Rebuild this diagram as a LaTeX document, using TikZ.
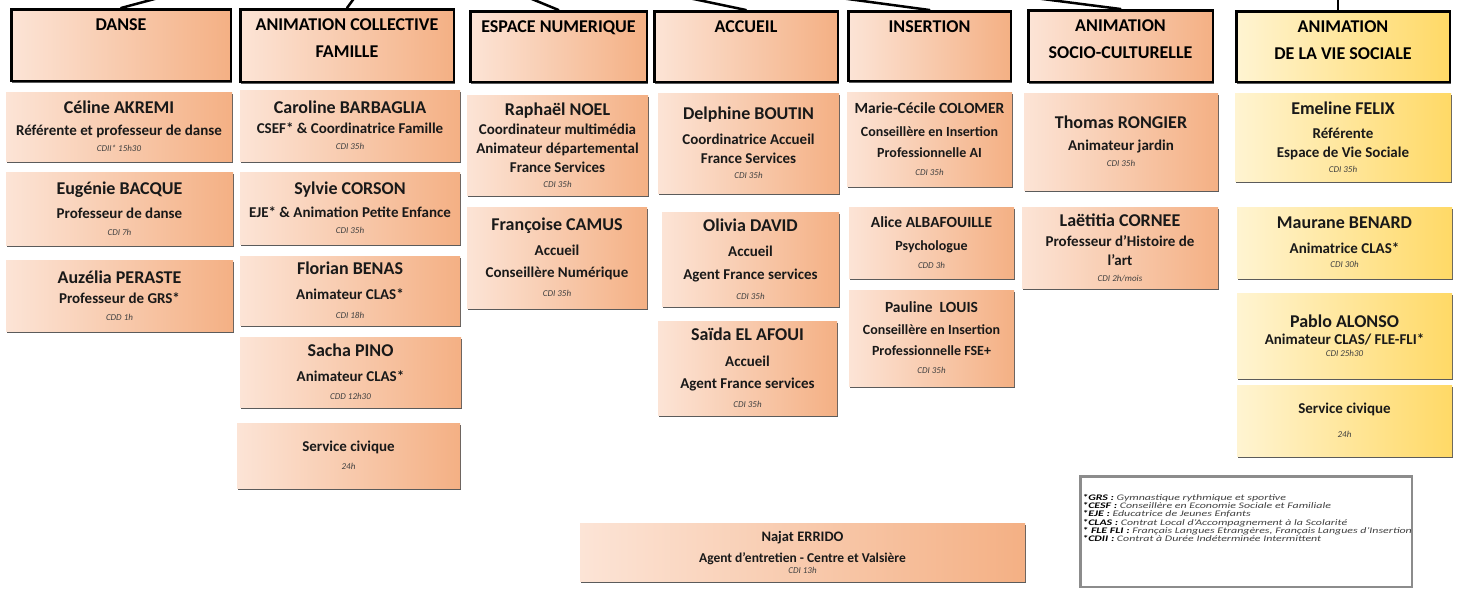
\documentclass[tikz,border=0pt]{standalone}
\usepackage{fontspec}
\setmainfont{Carlito}
\usepackage{graphicx}
\usetikzlibrary{shadows}

\definecolor{peachL}{HTML}{FCE4D6}
\definecolor{peachR}{HTML}{F4B084}
\definecolor{yellowL}{HTML}{FFF4D2}
\definecolor{yellowR}{HTML}{FFD966}
\definecolor{inkgray}{HTML}{404040}
\definecolor{framegray}{HTML}{8C8C8C}

\tikzset{every picture/.style={line width=0.75pt}}

\begin{document}
\begin{tikzpicture}[x=1pt, y=-1pt,
    link/.style={black, line width=2.5pt, line cap=round},
    boxshadow/.style={drop shadow={shadow xshift=1pt, shadow yshift=-2pt, fill=black!80, opacity=0.8}},
    head/.style={draw=black, line width=2.5pt, left color=peachL, right color=peachR, boxshadow, inner sep=0pt},
    headtext/.style={anchor=north, yshift=-10pt, align=center, inner sep=0pt,
                     font=\fontsize{18}{27}\selectfont\bfseries},
    person/.style={left color=peachL, right color=peachR, boxshadow, align=center, inner sep=1pt,
                   text=black!90, font=\fontsize{15}{19}\selectfont\bfseries},
    evs/.style={left color=yellowL, right color=yellowR},
    wh/.style 2 args={minimum width=#1, minimum height=#2}]

  \def\pname#1{{\fontsize{18}{22}\selectfont #1}}
  \def\pcdi#1{{\fontsize{9}{11}\selectfont\mdseries\itshape\color{inkgray}#1}}
  \def\legline#1#2{\scalebox{1.4}[1]{{\bfseries\color{black}#1 :} #2}}

  \useasboundingbox[fill=white] (0,0) rectangle (1457,592);

  % headers
  \node[head, wh={219.5}{71.5}, label={[headtext]north:DANSE}] (hDanse) at (121,45) {};
  \node[head, wh={213.5}{72.5}, label={[headtext]north:ANIMATION COLLECTIVE\\FAMILLE}] (hFamille) at (347,45.5) {};
  \node[head, wh={176.5}{70.5}, label={[headtext]north:ESPACE NUMERIQUE}] (hNumerique) at (558.5,46.5) {};
  \node[head, wh={183.5}{70.5}, label={[headtext]north:ACCUEIL}] (hAccueil) at (746,46.5) {};
  \node[head, wh={162.5}{69.5}, label={[headtext]north:INSERTION}] (hInsertion) at (929.5,46) {};
  \node[head, wh={184.5}{71.5}, label={[headtext]north:ANIMATION\\SOCIO-CULTURELLE}] (hSocio) at (1120.5,46) {};
  \node[head, evs, wh={213.5}{70.5}, label={[headtext]north:ANIMATION\\DE LA VIE SOCIALE}] (hVieSociale) at (1343,46.5) {};

  % links from above
  \coordinate (tDanse) at (162,-3);
  \coordinate (tFamille) at (355,-3);
  \coordinate (tNumerique) at (527,-3);
  \coordinate (tAccueil) at (684,-3);
  \coordinate (tInsertion) at (833,-3);
  \coordinate (tSocio) at (1027,-3);
  \coordinate (tVieSociale) at (1338,-3);
  \draw[link] (tDanse) -- (hDanse.north);
  \draw[link] (tFamille) -- (hFamille.north);
  \draw[link] (tNumerique) -- (hNumerique.north);
  \draw[link] (tAccueil) -- (hAccueil.north);
  \draw[link] (tInsertion) -- (hInsertion.north);
  \draw[link] (tSocio) -- (hSocio.north);
  \draw[link] (tVieSociale) -- (tVieSociale |- hVieSociale.north);

  % danse
  \node[person, wh={226}{69}] (pAkremi) at (119,126.5)
    {\pname{Céline AKREMI}\\[3pt]Référente et professeur de danse\\[-3pt]\pcdi{CDII* 15h30}};
  \node[person, wh={227}{73}] (pBacque) at (119.5,208.5)
    {\pname{Eugénie BACQUE}\\[5pt]Professeur de danse\\[-2pt]\pcdi{CDI 7h}};
  \node[person, wh={227}{71}] (pPeraste) at (119.5,295.5)
    {\pname{Auzélia PERASTE}\\[1pt]Professeur de GRS*\\[-2pt]\pcdi{CDD 1h}};

  % animation collective famille
  \node[person, wh={220}{71}] (pBarbaglia) at (350,125.5)
    {\pname{Caroline BARBAGLIA}\\[1pt]CSEF* \& Coordinatrice Famille\\[-3pt]\pcdi{CDI 35h}};
  \node[person, wh={220}{72}] (pCorson) at (350,208)
    {\pname{Sylvie CORSON}\\[4pt]EJE* \& Animation Petite Enfance\\[-3pt]\pcdi{CDI 35h}};
  \node[person, wh={220}{69}] (pBenas) at (350,290.5)
    {\pname{Florian BENAS}\\[6pt]Animateur CLAS*\\[0pt]\pcdi{CDI 18h}};
  \node[person, wh={221}{70}] (pPino) at (350.5,372)
    {\pname{Sacha PINO}\\[6pt]Animateur CLAS*\\[-1pt]\pcdi{CDD 12h30}};
  \node[person, wh={223}{65}] (pCivA) at (348.5,455.5)
    {Service civique\\[-1pt]\pcdi{24h}};

  % espace numerique
  \node[person, wh={181}{100}] (pNoel) at (557.5,145)
    {\pname{Raphaël NOEL}\\Coordinateur multimédia\\Animateur départemental\\France Services\\[-4pt]\pcdi{CDI 35h}};
  \node[person, wh={180}{101}] (pCamus) at (557,257.5)
    {\pname{Françoise CAMUS}\\[6pt]Accueil\\[3pt]Conseillère Numérique\\[0pt]\pcdi{CDI 35h}};

  % accueil
  \node[person, wh={181}{100}] (pBoutin) at (748.5,143)
    {\pname{Delphine BOUTIN}\\[6pt]Coordinatrice Accueil\\France Services\\[-4pt]\pcdi{CDI 35h}};
  \node[person, wh={177}{94}] (pDavid) at (750.5,259)
    {\pname{Olivia DAVID}\\[6pt]Accueil\\[4pt]Agent France services\\[1pt]\pcdi{CDI 35h}};
  \node[person, wh={179}{94}] (pElAfoui) at (747.5,368)
    {\pname{Saïda EL AFOUI}\\[7pt]Accueil\\[3pt]Agent France services\\[0pt]\pcdi{CDI 35h}};

  % insertion
  \node[person, wh={165}{94}, font=\fontsize{14}{19}\selectfont\bfseries] (pColomer) at (929.5,139)
    {{\fontsize{15.5}{19}\selectfont Marie-Cécile COLOMER}\\[4pt]Conseillère en Insertion\\[2pt]Professionnelle AI\\[-1pt]\pcdi{CDI 35h}};
  \node[person, wh={165}{71}, font=\fontsize{14}{19}\selectfont\bfseries] (pAlbafouille) at (931.5,242.5)
    {{\fontsize{15.5}{19}\selectfont Alice ALBAFOUILLE}\\[4pt]Psychologue\\[-1pt]\pcdi{CDD 3h}};
  \node[person, wh={165}{96}, font=\fontsize{14}{19}\selectfont\bfseries] (pLouis) at (931.5,338)
    {{\fontsize{15.5}{19}\selectfont Pauline\ \ LOUIS}\\[3pt]Conseillère en Insertion\\[2pt]Professionnelle FSE+\\[-1pt]\pcdi{CDI 35h}};

  % animation socio-culturelle
  \node[person, wh={194}{97}] (pRongier) at (1121,141.5)
    {\pname{Thomas RONGIER}\\[3pt]Animateur jardin\\[-3pt]\pcdi{CDI 35h}};
  \node[person, wh={196}{81}] (pCornee) at (1120,247.5)
    {\pname{Laëtitia CORNEE}\\[1pt]Professeur d’Histoire de\\l’art\\[-3pt]\pcdi{CDI 2h/mois}};

  % animation de la vie sociale
  \node[person, evs, wh={216}{88}] (pFelix) at (1343,137)
    {\pname{Emeline FELIX}\\[5pt]Référente\\Espace de Vie Sociale\\[-4pt]\pcdi{CDI 35h}};
  \node[person, evs, wh={215}{71}] (pBenard) at (1344.5,242.5)
    {\pname{Maurane BENARD}\\[6pt]Animatrice CLAS*\\[-5pt]\pcdi{CDI 30h}};
  \node[person, evs, wh={215}{85}] (pAlonso) at (1344.5,335.5)
    {\pname{Pablo ALONSO}\\[-2pt]Animateur CLAS/ FLE-FLI*\\[-7pt]\pcdi{CDI 25h30}};
  \node[person, evs, wh={215}{71}] (pCivB) at (1344.5,420.5)
    {Service civique\\[5pt]\pcdi{24h}};

  % entretien
  \node[person, wh={445}{58}, font=\fontsize{13.5}{17}\selectfont\bfseries] (pErrido) at (802.5,552)
    {{\fontsize{14.5}{17}\selectfont Najat ERRIDO}\\[4pt]Agent d’entretien - Centre et Valsière\\[-6pt]\pcdi{CDI 13h}};

  % legend
  \node[draw=framegray, line width=2.5pt, fill=white, wh={331.5}{110.5}] (legend) at (1246,531.5) {};
  \node[anchor=north west, inner sep=0pt, align=left, text=inkgray,
        font={\fontsize{8.5}{8.2}\selectfont\itshape\lineskiplimit=-3pt}] (legendtext)
        at ([shift={(3,19)}]legend.north west)
    {\legline{*GRS}{Gymnastique rythmique et sportive}\\
     \legline{*CESF}{Conseillère en Economie Sociale et Familiale}\\
     \legline{*EJE}{Educatrice de Jeunes Enfants}\\
     \legline{*CLAS}{Contrat Local d’Accompagnement à la Scolarité}\\
     \legline{* FLE FLI}{Français Langues Etrangères, Français Langues d’Insertion}\\
     \legline{*CDII}{Contrat à Durée Indéterminée Intermittent}};

\end{tikzpicture}
\end{document}
